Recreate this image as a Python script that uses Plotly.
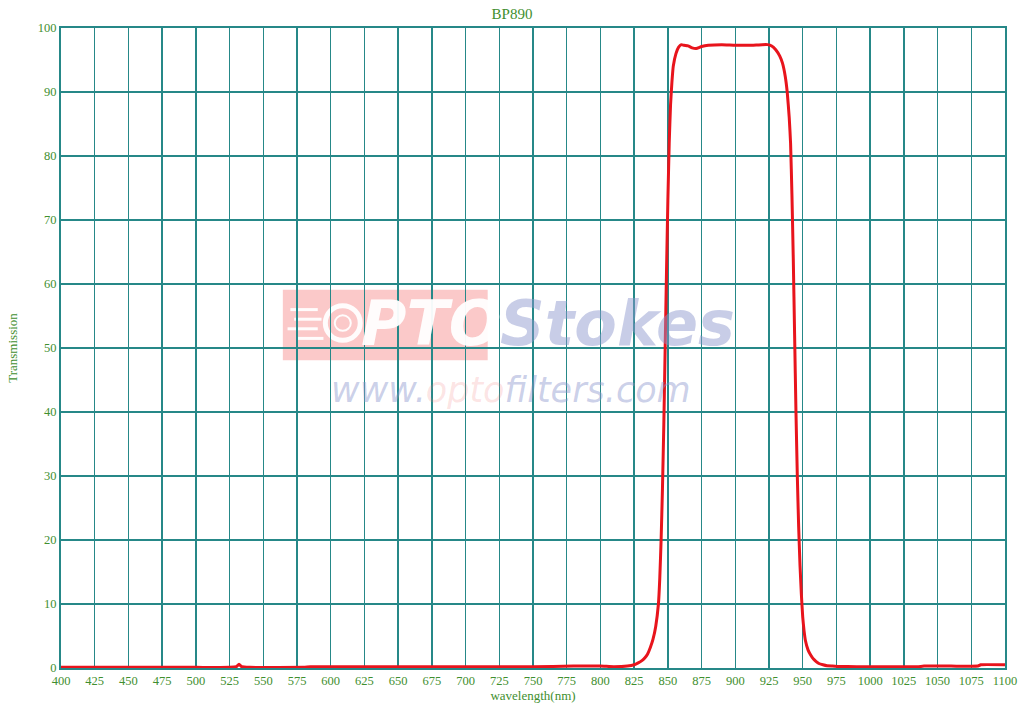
import plotly.graph_objects as go

# Wavelength (nm) and transmission (%)
wavelength = [400, 450, 500, 525, 530, 532, 534, 540, 580, 585, 650, 700, 750, 780, 800, 810,
              820, 825, 828, 831, 833, 835, 837, 839, 841, 843, 844, 845, 846, 847, 848, 849,
              850, 851, 852, 853, 854, 856, 858, 860, 862, 865, 868, 871, 875, 880, 890, 900,
              910, 920, 924, 927, 930, 933, 935, 937, 938.5, 940, 941, 942, 943, 944, 945, 946,
              947, 948, 949, 950, 951, 952, 954, 956, 958, 960, 962, 965, 968, 972, 976, 990,
              1010, 1035, 1040, 1060, 1080, 1082, 1100]
transmission = [0.1, 0.1, 0.1, 0.1, 0.2, 0.6, 0.2, 0.1, 0.1, 0.2, 0.2, 0.2, 0.2, 0.3, 0.3, 0.2,
                0.3, 0.5, 0.8, 1.2, 1.6, 2.2, 3.2, 4.5, 6.5, 10.0, 14.0, 20.0, 28.0, 38.0, 50.0, 62.0,
                73.0, 82.0, 88.0, 91.5, 94.0, 96.0, 97.0, 97.4, 97.3, 97.2, 96.9, 96.8, 97.1, 97.3, 97.4, 97.3,
                97.3, 97.4, 97.4, 97.2, 96.6, 95.6, 94.5, 92.5, 90.0, 86.0, 82.0, 74.0, 64.0, 52.0, 40.0, 30.0,
                22.0, 16.0, 11.5, 8.0, 5.8, 4.3, 2.8, 2.0, 1.4, 1.0, 0.7, 0.5, 0.35, 0.3, 0.25, 0.2,
                0.2, 0.2, 0.3, 0.3, 0.3, 0.5, 0.5]

x_ticks = list(range(400, 1101, 25))
y_ticks = list(range(0, 101, 10))

GRID = "#268888"
GREEN = "#3f8f2f"
FONT = "Liberation Serif"
WHITE = "rgba(255,255,255,0.95)"

fig = go.Figure()
fig.add_trace(go.Scatter(x=wavelength, y=transmission, mode="lines",
                         line=dict(color="#e8141c", width=3, shape="spline", smoothing=0.4),
                         hoverinfo="skip", showlegend=False))

# Watermark (decoration)
fig.add_shape(type="rect", xref="paper", yref="paper", x0=0.235, x1=0.452, y0=0.481, y1=0.591,
              fillcolor="rgba(245,120,120,0.40)", line=dict(width=0), layer="below")
for (lx0, lx1, ly) in [(0.243, 0.272, 0.560), (0.247, 0.276, 0.545), (0.240, 0.272, 0.530),
                       (0.250, 0.278, 0.515)]:
    fig.add_shape(type="line", xref="paper", yref="paper", x0=lx0, x1=lx1, y0=ly, y1=ly,
                  line=dict(color=WHITE, width=3), layer="below")
fig.add_shape(type="circle", xref="paper", yref="paper", x0=0.280, x1=0.317, y0=0.512, y1=0.566,
              line=dict(color=WHITE, width=5), layer="below")
fig.add_shape(type="circle", xref="paper", yref="paper", x0=0.290, x1=0.307, y0=0.527, y1=0.551,
              line=dict(color=WHITE, width=2), layer="below")
fig.add_annotation(xref="paper", yref="paper", x=0.392, y=0.539, text="<b><i>PTO</i></b>", showarrow=False,
                   font=dict(family="DejaVu Sans", size=62, color=WHITE))
fig.add_annotation(xref="paper", yref="paper", x=0.590, y=0.539, text="<b><i>Stokes</i></b>", showarrow=False,
                   font=dict(family="DejaVu Sans", size=62, color="rgba(140,150,205,0.48)"))
fig.add_annotation(xref="paper", yref="paper", x=0.477, y=0.434,
                   text="<i>www.<span style='color:rgba(240,120,120,0.45)'>opto</span>filters.com</i>",
                   showarrow=False,
                   font=dict(family="DejaVu Sans", size=35, color="rgba(140,150,205,0.45)"))

fig.update_layout(
    width=1024, height=704,
    margin=dict(l=61, r=19, t=28, b=36),
    paper_bgcolor="white", plot_bgcolor="white",
    title=dict(text="BP890", x=0.5, xanchor="center", y=0.980, yanchor="middle",
               font=dict(family=FONT, size=15, color=GREEN)),
    font=dict(family=FONT, color=GREEN, size=12),
)
fig.update_xaxes(range=[400, 1100], tickvals=x_ticks, ticktext=[str(v) for v in x_ticks],
                 showgrid=True, gridcolor=GRID, gridwidth=1.3, zeroline=False, automargin=False,
                 showline=True, linecolor=GRID, linewidth=2, mirror=True, ticks="",
                 tickfont=dict(family=FONT, size=12.5, color=GREEN),
                 title=dict(text="wavelength(nm)", standoff=0, font=dict(family=FONT, size=13, color=GREEN)))
fig.update_yaxes(range=[0, 100], tickvals=y_ticks, ticktext=[str(v) for v in y_ticks],
                 showgrid=True, gridcolor=GRID, gridwidth=1.3, zeroline=False, automargin=False,
                 showline=True, linecolor=GRID, linewidth=2, mirror=True, ticks="",
                 tickfont=dict(family=FONT, size=12.5, color=GREEN),
                 title=dict(text="Transmission", standoff=17, font=dict(family=FONT, size=13, color=GREEN)))

fig.write_html("out.html", config={"displayModeBar": False, "staticPlot": True})

# Remove the browser's default page margin so the figure sits at the window's corner
with open("out.html", "r", encoding="utf-8") as f:
    html = f.read()
html = html.replace("<body>", '<body style="margin:0;padding:0;overflow:hidden">', 1)
with open("out.html", "w", encoding="utf-8") as f:
    f.write(html)
